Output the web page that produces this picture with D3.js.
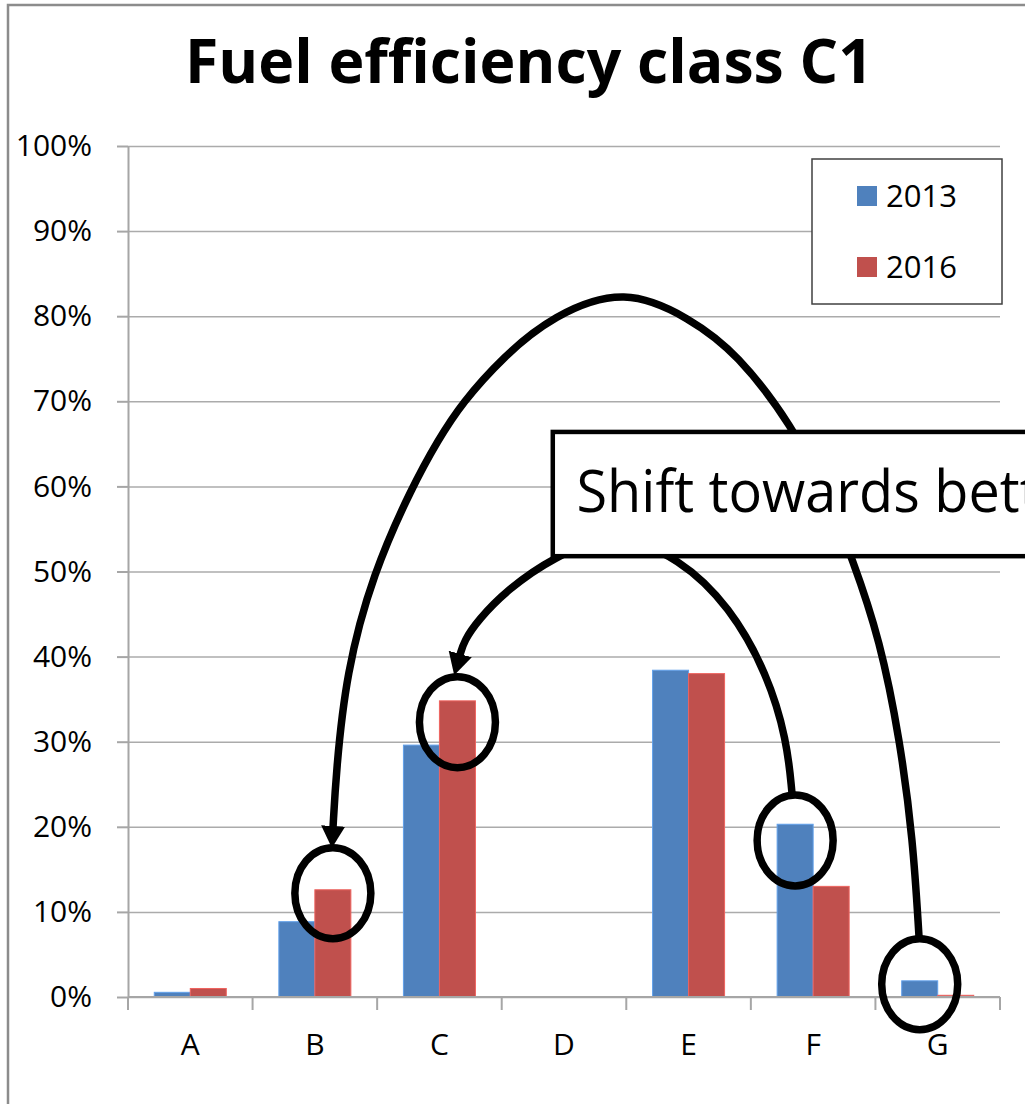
<!DOCTYPE html>
<head>
  <meta charset="utf-8">
  <script src="https://d3js.org/d3.v7.min.js"></script>
  <style>
    body { margin:0; background:#fff; overflow:hidden; }
    text { font-family: "Open Sans", sans-serif; fill:#000; }
    .grid line { stroke:#ababab; stroke-width:1.5; }
    .grid path { display:none; }
    .axis path, .axis line { stroke:#a6a6a6; stroke-width:2; }
  </style>
</head>
<body>
  <script>
    // data
    var categories = ['A', 'B', 'C', 'D', 'E', 'F', 'G'];
    var series = ['2013', '2016'];
    var values2013 = [0.55, 8.85, 29.6, 0, 38.4, 20.3, 1.9];
    var values2016 = [1.0, 12.6, 34.8, 0, 38.0, 13.0, 0.2];
    var yTicks = [0, 10, 20, 30, 40, 50, 60, 70, 80, 90, 100];
    var colors = ['#4f81bd', '#c0504d'];

    // annotation anchors, in category units (x) and percent (y)
    var outerArc = [[6.350,7.05],[6.302,18.45],[6.197,30.2],[6.037,41.95],[5.820,51.35],
      [5.595,59.58],[5.339,66.98],[4.889,75.68],[4.512,79.75],[3.990,83.4],[3.411,80.1],
      [3.010,75.21],[2.681,69.8],[2.489,65.45],[2.280,59.93],[1.967,49.82],[1.750,38.07],
      [1.670,26.32],[1.646,19.98]];
    var innerArc = [[5.330,23.97],[5.290,30.2],[5.130,38.07],[4.833,45.83],[4.431,51.59],
      [3.909,54.64],[3.412,51.7],[3.042,47.83],[2.810,44.3],[2.697,41.83],[2.665,40.19]];
    var circled = [
      {cat:'B', s:'2016', pct:12.2},
      {cat:'C', s:'2016', pct:32.3},
      {cat:'F', s:'2013', pct:18.4},
      {cat:'G', s:'2013', pct:1.5}
    ];

    var width = 1025, height = 1104;
    var svg = d3.select('body').append('svg')
      .attr('width', width)
      .attr('height', height);

    var defs = svg.append('defs');
    defs.append('marker')
      .attr('id', 'head')
      .attr('markerUnits', 'userSpaceOnUse')
      .attr('viewBox', '0 -13 23 26')
      .attr('refX', 1).attr('refY', 0)
      .attr('markerWidth', 23).attr('markerHeight', 26)
      .attr('orient', 'auto')
      .append('path').attr('d', 'M0,-12L22,0L0,12Z').attr('fill', '#000');

    // chart frame
    svg.append('rect')
      .attr('x', 8).attr('y', 5)
      .attr('width', 1200).attr('height', 1200)
      .attr('fill', '#fff').attr('stroke', '#8c8c8c').attr('stroke-width', 2.5);

    svg.append('text')
      .attr('x', 529).attr('y', 83)
      .attr('text-anchor', 'middle')
      .attr('font-size', 61).attr('font-weight', 'bold')
      .attr('textLength', 688).attr('lengthAdjust', 'spacingAndGlyphs')
      .text('Fuel efficiency class C1');

    var x = d3.scaleBand().domain(categories).range([128, 1000]);
    var xs = d3.scaleBand().domain(series).range([0, x.bandwidth()]).paddingOuter(0.73);
    var y = d3.scaleLinear().domain([0, 100]).range([997, 146]);
    var xu = d3.scaleLinear().domain([0, categories.length]).range([128, 1000]);

    // gridlines
    svg.append('g').attr('class', 'grid')
      .attr('transform', 'translate(128,0)')
      .call(d3.axisLeft(y).tickValues(yTicks).tickSize(-872).tickFormat(''));

    // bars
    var rows = categories.map(function(c, i) {
      return { cat: c, vals: [values2013[i], values2016[i]] };
    });
    var grp = svg.selectAll('.cat')
      .data(rows)
      .enter().append('g')
      .attr('transform', function(d) { return 'translate(' + x(d.cat) + ',0)'; });
    grp.selectAll('rect')
      .data(function(d) { return d.vals.map(function(v, j) { return { s: series[j], v: v, j: j }; }); })
      .enter().append('rect')
      .attr('x', function(d) { return xs(d.s); })
      .attr('width', xs.bandwidth())
      .attr('y', function(d) { return y(d.v); })
      .attr('height', function(d) { return y(0) - y(d.v); })
      .attr('fill', function(d) { return colors[d.j]; })
      .attr('stroke', function(d) { return d3.color(colors[d.j]).brighter(0.6); })
      .attr('stroke-width', 1);

    // y axis
    var yAxis = svg.append('g').attr('class', 'axis')
      .attr('transform', 'translate(128,0)')
      .call(d3.axisLeft(y).tickValues(yTicks).tickSizeInner(11).tickSizeOuter(0)
        .tickPadding(25).tickFormat(function(d) { return d + '%'; }));
    yAxis.selectAll('text').attr('font-size', 30).attr('fill', '#000')
      .style('font-family', '"Open Sans", sans-serif');

    // x axis
    var xAxis = svg.append('g').attr('class', 'axis');
    xAxis.append('line')
      .attr('x1', 128).attr('x2', 1000).attr('y1', y(0)).attr('y2', y(0));
    xAxis.selectAll('.tk')
      .data(d3.range(categories.length + 1))
      .enter().append('line')
      .attr('x1', function(i) { return xu(i); }).attr('x2', function(i) { return xu(i); })
      .attr('y1', y(0)).attr('y2', y(0) + 13);
    svg.selectAll('.xl')
      .data(categories)
      .enter().append('text')
      .attr('x', function(d) { return x(d) + x.bandwidth() / 2; })
      .attr('y', 1055)
      .attr('text-anchor', 'middle')
      .attr('font-size', 30)
      .text(function(d) { return d; });

    // legend
    var lg = svg.append('g');
    lg.append('rect')
      .attr('x', 812).attr('y', 159).attr('width', 190).attr('height', 145)
      .attr('fill', '#fff').attr('stroke', '#404040').attr('stroke-width', 1.5);
    series.forEach(function(s, i) {
      lg.append('rect')
        .attr('x', 857).attr('y', 186 + i * 71).attr('width', 20).attr('height', 20)
        .attr('fill', colors[i]);
      lg.append('text')
        .attr('x', 886).attr('y', 196 + i * 71)
        .attr('dy', '0.36em')
        .attr('font-size', 31)
        .text(s);
    });

    // annotations
    var line = d3.line()
      .x(function(d) { return xu(d[0]); })
      .y(function(d) { return y(d[1]); })
      .curve(d3.curveBasis);

    [outerArc, innerArc].forEach(function(pts) {
      svg.append('path')
        .attr('d', line(pts))
        .attr('fill', 'none').attr('stroke', '#000').attr('stroke-width', 7.5)
        .attr('marker-end', 'url(#head)');
    });

    svg.selectAll('.ring')
      .data(circled)
      .enter().append('ellipse')
      .attr('cx', function(d) { return x(d.cat) + xs(d.s) + xs.bandwidth() / 2; })
      .attr('cy', function(d) { return y(d.pct); })
      .attr('rx', 38).attr('ry', 45.5)
      .attr('fill', 'none').attr('stroke', '#000').attr('stroke-width', 7.5);

    svg.append('rect')
      .attr('x', xu(3.41)).attr('y', y(66.4))
      .attr('width', 600).attr('height', y(51.8) - y(66.4))
      .attr('fill', '#fff').attr('stroke', '#000').attr('stroke-width', 4.5);

    var note = svg.append('text')
      .attr('x', 0).attr('y', 0)
      .attr('font-size', 58)
      .text('Shift towards better classes');
    var sx = 358 / note.node().getSubStringLength(0, 14);
    note.attr('transform', 'translate(' + xu(3.6) + ',' + y(57.0) + ') scale(' + sx + ',1)');
  </script>
</body>
